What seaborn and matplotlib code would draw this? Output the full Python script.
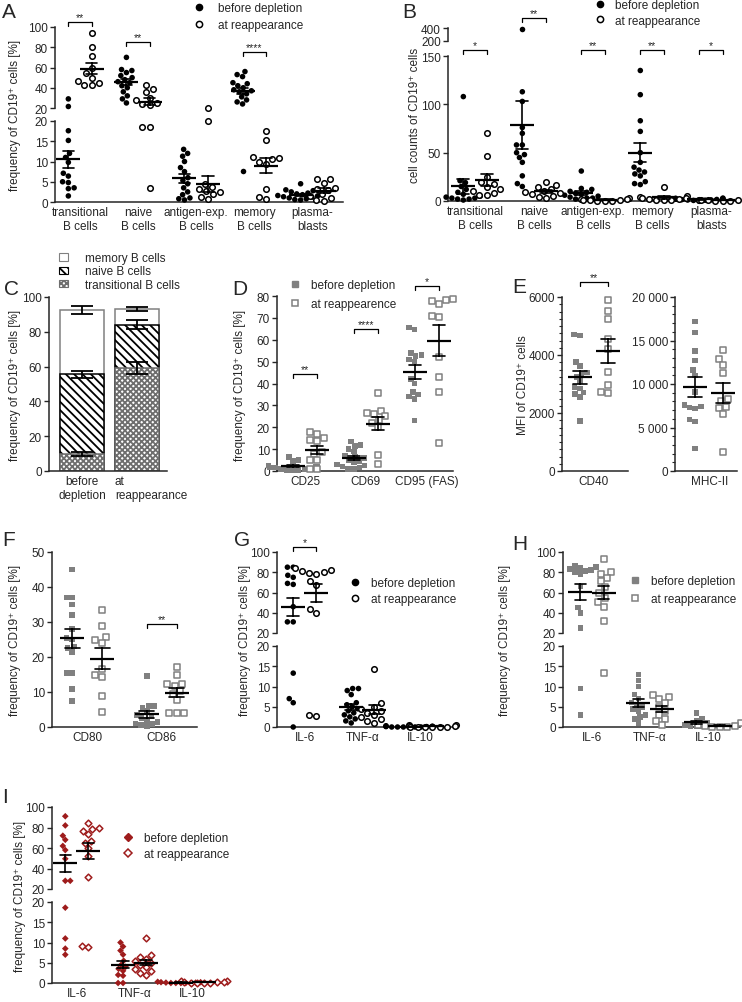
import warnings
import pandas as pd
import matplotlib
matplotlib.use('Agg')
import matplotlib.pyplot as plt
from matplotlib.lines import Line2D
from matplotlib.patches import Patch
from matplotlib.ticker import AutoMinorLocator, FuncFormatter
import seaborn as sns

warnings.filterwarnings('ignore')

sns.set_style('ticks')
plt.rcParams['font.family'] = ['Liberation Sans', 'DejaVu Sans']
plt.rcParams['hatch.linewidth'] = 1.3
plt.rcParams['axes.linewidth'] = 1.1

FS = 8.5
GROUPS = ['before', 'after']
YLAB = 'frequency of CD19⁺ cells [%]'
GRAY = '#808080'
RED = '#9e1c1c'

# ---------------- data ----------------
BCELL_CATS = ['transitional\nB cells', 'naive\nB cells', 'antigen-exp.\nB cells',
              'memory\nB cells', 'plasma-\nblasts']
A_BEFORE = [[29, 21.5, 17.6, 15.2, 12, 11, 9.8, 7.1, 6.4, 5, 4.8, 3.5, 3.3, 1.5],
            [70, 58, 57, 55, 52, 50, 48, 46, 45, 42, 40, 36, 32, 29, 25],
            [13, 12, 11.3, 10, 8.5, 7.5, 6, 5.3, 4.5, 3.5, 2.5, 1.8, 1, 0.8, 0.5],
            [56, 53, 51, 45, 44, 42, 40, 38, 37, 36, 34, 31, 28, 26, 24, 7.7],
            [4.5, 3, 2.8, 2.5, 2.2, 2, 1.8, 1.6, 1.5, 1.3, 1.2, 1, 0.8, 0.6, 0.5]]
A_AFTER = [[94, 80, 71, 60, 55, 50, 47, 45, 43, 43],
           [43, 39, 36, 30, 28, 25, 24, 23, 18.4, 18.4, 3.5],
           [20, 4.5, 3.8, 3.2, 2.7, 2.4, 2, 1.3, 0.7],
           [17.5, 15.3, 11, 10.8, 10.5, 10, 9.5, 3.3, 1.2, 0.8],
           [5.8, 5.6, 4.8, 3.5, 3.2, 3, 2, 1.5, 1, 0.5, 0.3]]

B_BEFORE = [[108, 21, 19, 15, 12, 9, 7, 5, 4, 3, 3, 2, 2, 1],
            [380, 113, 103, 70, 76, 58, 58, 50, 48, 45, 40, 26, 18, 15],
            [31, 13, 12, 10, 9, 8, 7, 6, 5, 4, 3, 3, 2, 1],
            [135, 110, 83, 72, 50, 40, 35, 32, 30, 28, 26, 20, 18, 17],
            [3, 2.8, 2.5, 2.2, 2, 1.8, 1.6, 1.4, 1.2, 1, 0.8, 0.6, 0.5]]
B_AFTER = [[70, 47, 25, 20, 18, 15, 12, 10, 8, 6, 6],
           [20, 17, 15, 12, 10, 9, 8, 7, 5, 4, 3],
           [3, 2.5, 2, 1.5, 1, 1, 0.5, 0.5, 0.3],
           [15, 5, 4, 3, 3, 2, 2, 1.5, 1, 1],
           [1.5, 1.3, 1.1, 1, 0.9, 0.8, 0.6, 0.5, 0.4, 0.3]]

C_GROUPS = ['before\ndepletion', 'at\nreappearance']
C_TRANS = [10, 59]
C_TRANS_SEM = [1.2, 3.5]
C_NAIVE = [45.5, 25]
C_NAIVE_SEM = [2.0, 2.5]
C_MEMORY = [37, 9]
C_MEMORY_SEM = [2.2, 1.2]

D_CATS = ['CD25', 'CD69', 'CD95 (FAS)']
D_BEFORE = [[6.5, 5, 4.5, 2.5, 2, 2, 1.5, 1.5, 1, 1, 0.8, 0.5, 0.5, 0.3],
            [13.5, 12, 11.5, 10, 9, 7, 6.5, 6, 5, 4.5, 4, 3, 2.5, 2, 1.5, 1, 0.8],
            [65.5, 64.6, 54, 53, 52.5, 51, 50, 42, 40, 36, 35, 34, 33, 23]]
D_AFTER = [[18, 16.8, 15.2, 14, 13.5, 8.5, 8, 5, 5, 1, 0.8],
           [35.5, 27.5, 26.5, 26, 25, 23.5, 22, 20, 7.3, 3.3],
           [78.5, 78, 77.5, 76.5, 71, 70.5, 52, 43, 36, 13]]

E_CD40_BEFORE = [4700, 4680, 3750, 3620, 3400, 3350, 3250, 3100, 2900, 2850, 2700, 2650, 2550, 1730]
E_CD40_AFTER = [5880, 5520, 5230, 4550, 4200, 3420, 2950, 2720, 2680]
E_MHC_BEFORE = [17200, 15900, 13800, 12700, 11600, 11000, 9100, 7600, 7400, 7300, 7200, 5900, 5700, 2600]
E_MHC_AFTER = [13900, 12900, 12200, 11300, 8300, 8000, 7400, 7200, 6500, 2200]

F_CATS = ['CD80', 'CD86']
F_BEFORE = [[45, 37, 37, 35, 32, 28, 25.5, 25, 23, 22.5, 21.5, 15.5, 15.5, 10.8, 7.5],
            [14.5, 6, 6, 5.5, 4.5, 3.5, 3, 2.5, 2, 1.5, 1, 0.8, 0.5, 0.3]]
F_AFTER = [[33.5, 28.8, 25.7, 24.8, 24, 16.5, 14.8, 14.2, 8.9, 4.3],
           [17.2, 14.8, 12.3, 12.2, 11.8, 10.3, 9.5, 7.8, 4, 4, 4]]

CYTO_CATS = ['IL-6', 'TNF-α', 'IL-10']
G_BEFORE = [[85, 85, 77, 75, 69, 68, 46, 31, 31, 13.3, 7, 6, 0],
            [9.5, 9.5, 9, 8, 6, 5.5, 5, 4.5, 4, 3.5, 3, 2.5, 2, 1.5, 1],
            [0.3, 0.2, 0.2, 0.1, 0.1, 0.1, 0, 0, 0, 0, 0, 0]]
G_AFTER = [[84, 82, 81, 80, 79, 78, 71, 67, 44, 40, 3, 2.8],
           [14.3, 6, 5, 4.5, 4, 3.5, 3, 2.5, 2, 1.5, 1],
           [0.5, 0.4, 0.3, 0.2, 0.1, 0.1, 0, 0, 0, 0]]

H_BEFORE = [[86, 85, 84, 83, 82, 81, 80, 78, 66, 45, 40, 25, 9.5, 3],
            [13, 11.5, 10, 8, 7, 6, 5.5, 5, 4.5, 4, 3, 2.5, 2, 1],
            [3.5, 2, 1.5, 1, 0.5, 0.3, 0.2, 0.1]]
H_AFTER = [[93, 80, 78, 74, 71, 65, 60, 55, 51, 46, 32, 13.3],
           [8, 7.5, 7, 6, 5, 4, 3, 2, 1.5, 0.5],
           [1, 0.5, 0.3, 0.2, 0.1, 0, 0]]

I_BEFORE = [[91, 82, 72, 68, 62, 58, 49.5, 28, 28, 18.6, 11, 8.5, 7],
            [10, 9, 8, 7, 5.5, 4.5, 4, 3.5, 3, 2, 1.8, 0, 0],
            [0.3, 0.2, 0.2, 0.1, 0.1, 0, 0, 0, 0, 0]]
I_AFTER = [[84, 80, 79, 77, 74, 67, 65, 60, 52, 32, 9.1, 8.8],
           [11, 7, 6.5, 6, 5.5, 5, 4.5, 4, 3.5, 3, 2.5, 2],
           [0.5, 0.4, 0.3, 0.3, 0.2, 0.1, 0.1, 0, 0]]

# ---------------- helpers ----------------
W, H = 742, 1003
fig = plt.figure(figsize=(W / 100, H / 100), dpi=100)


def px_axes(x0, y0, x1, y1):
    return fig.add_axes([x0 / W, 1 - y1 / H, (x1 - x0) / W, (y1 - y0) / H])


def long_df(cats, before, after):
    rows = []
    for cat, b, a in zip(cats, before, after):
        rows += [(cat, 'before', v) for v in b]
        rows += [(cat, 'after', v) for v in a]
    return pd.DataFrame(rows, columns=['cat', 'grp', 'val'])


def style(ax, show_x=True):
    sns.despine(ax=ax)
    if show_x:
        ax.tick_params(axis='x', length=0, pad=3, labelsize=FS)
    else:
        ax.spines['bottom'].set_visible(False)
        ax.tick_params(axis='x', bottom=False, labelbottom=False)
    ax.tick_params(axis='y', length=3.5, width=1, pad=1.5, labelsize=FS)
    ax.set_xlabel('')
    ax.set_ylabel('')


def dots(ax, df, cats, lo, hi, ticks, xlim, marker, color, size=4.0, show_x=True):
    sns.pointplot(data=df, x='cat', y='val', hue='grp', order=cats, hue_order=GROUPS,
                  dodge=0.4, errorbar='se', markers='_', linestyles='none',
                  palette={'before': 'black', 'after': 'black'}, capsize=0.2,
                  err_kws={'linewidth': 1.2, 'zorder': 6}, markersize=17,
                  markeredgewidth=1.6, zorder=7, legend=False, ax=ax)
    part = df[(df.val >= lo) & (df.val <= hi)]
    for grp in GROUPS:
        sub = part[part.grp == grp]
        if sub.empty:
            continue
        n0 = len(ax.collections)
        sns.swarmplot(data=sub, x='cat', y='val', hue='grp', order=cats, hue_order=GROUPS,
                      dodge=True, palette={'before': color, 'after': color}, marker=marker,
                      size=size, legend=False, warn_thresh=1, ax=ax)
        for coll in ax.collections[n0:]:
            coll.set_clip_on(False)
            coll.set_zorder(3)
            if grp == 'after':
                coll.set_facecolor('white')
                coll.set_edgecolor(color)
                coll.set_linewidth(1.1)
    ax.set_ylim(lo, hi)
    ax.set_yticks(ticks)
    ax.set_xlim(*xlim)
    style(ax, show_x)


def bracket(ax, i, y, drop, stars):
    ax.plot([i - 0.2, i - 0.2, i + 0.2, i + 0.2], [y - drop, y, y, y - drop],
            color='black', lw=0.9, clip_on=False)
    ax.text(i, y, stars, ha='center', va='bottom', fontsize=7.5, clip_on=False)


def marker_handles(marker, color, ms=4.5):
    return [Line2D([], [], ls='none', marker=marker, ms=ms, mfc=color, mec=color),
            Line2D([], [], ls='none', marker=marker, ms=ms, mfc='white', mec=color, mew=1.1)]


def legend(ax, handles, labels, x, y, spacing, pad=1.1):
    ax.legend(handles, labels, loc='upper left', bbox_to_anchor=(x / W, 1 - y / H),
              bbox_transform=fig.transFigure, frameon=False, borderpad=0,
              borderaxespad=0, handlelength=1.0, handletextpad=pad,
              labelspacing=spacing, fontsize=FS)


def ylabel(x, y, text):
    fig.text(x / W, 1 - y / H, text, rotation=90, ha='center', va='center', fontsize=FS)


def letter(x, y, s):
    fig.text(x / W, 1 - y / H, s, fontsize=15, va='top', ha='left')


PAIR = ['before depletion', 'at reappearance']

# ---------------- A ----------------
a_df = long_df(BCELL_CATS, A_BEFORE, A_AFTER)
ax_a1 = px_axes(55, 28, 343, 109)
ax_a2 = px_axes(55, 122, 343, 203)
dots(ax_a1, a_df, BCELL_CATS, 20, 100, [20, 40, 60, 80, 100], (-0.43, 4.53), 'o', 'black', show_x=False)
dots(ax_a2, a_df, BCELL_CATS, 0, 20, [0, 5, 10, 15, 20], (-0.43, 4.53), 'o', 'black')
bracket(ax_a1, 0, 105, 4, '**')
bracket(ax_a1, 1, 85, 4, '**')
bracket(ax_a1, 3, 75.5, 4, '****')
legend(ax_a1, marker_handles('o', 'black'), PAIR, 193, 3, 0.45)
ylabel(15, 115, YLAB)
letter(2, 3, 'A')

# ---------------- B ----------------
b_df = long_df(BCELL_CATS, B_BEFORE, B_AFTER)
ax_b1 = px_axes(448, 29, 740, 42)
ax_b2 = px_axes(448, 57, 740, 202)
dots(ax_b1, b_df, BCELL_CATS, 200, 400, [200, 400], (-0.46, 4.49), 'o', 'black', show_x=False)
dots(ax_b2, b_df, BCELL_CATS, 0, 150, [0, 50, 100, 150], (-0.46, 4.49), 'o', 'black')
bracket(ax_b1, 1, 555, 60, '**')
for i, s in [(0, '*'), (2, '**'), (3, '**'), (4, '*')]:
    bracket(ax_b2, i, 156, 4, s)
legend(ax_b1, marker_handles('o', 'black'), PAIR, 594, 0, 0.3, pad=0.8)
ylabel(415, 115, 'cell counts of CD19⁺ cells')
letter(402, 3, 'B')

# ---------------- C ----------------
ax_c = px_axes(49, 298, 167, 472)
cum_naive = [t + n for t, n in zip(C_TRANS, C_NAIVE)]
cum_mem = [c + m for c, m in zip(cum_naive, C_MEMORY)]
layers = [(cum_mem, C_MEMORY_SEM, '', GRAY),
          (cum_naive, C_NAIVE_SEM, '\\\\\\\\', 'black'),
          (C_TRANS, C_TRANS_SEM, 'xxxxxx', '#6e6e6e')]
for tops, sems, hatch, ec in layers:
    n0 = len(ax_c.patches)
    sns.barplot(x=C_GROUPS, y=tops, color='white', saturation=1, edgecolor=ec,
                linewidth=1.1, width=0.8, ax=ax_c)
    for p in ax_c.patches[n0:]:
        p.set_hatch(hatch)
    ax_c.errorbar(range(len(C_GROUPS)), tops, yerr=sems, fmt='none', ecolor='black',
                  elinewidth=1.3, capsize=8, capthick=1.3, zorder=5)
ax_c.set_ylim(0, 100)
ax_c.set_yticks(range(0, 101, 20))
ax_c.set_xlim(-0.6, 1.55)
style(ax_c)
ax_c.set_xticks([0, 1], [C_GROUPS[0], ''])
ax_c.text(0.6, -0.022, C_GROUPS[1], transform=ax_c.get_xaxis_transform(),
          ha='left', va='top', fontsize=FS)
c_handles = [Patch(facecolor='white', edgecolor=GRAY, lw=0.8),
             Patch(facecolor='white', edgecolor='black', hatch='\\\\\\\\', lw=0.8),
             Patch(facecolor='white', edgecolor='#6e6e6e', hatch='xxxxxx', lw=0.8)]
ax_c.legend(c_handles, ['memory B cells', 'naive B cells', 'transitional B cells'],
            loc='upper left', bbox_to_anchor=(59 / W, 1 - 253 / H),
            bbox_transform=fig.transFigure, frameon=False, borderpad=0, borderaxespad=0,
            handlelength=0.8, handleheight=0.6, handletextpad=1.4, labelspacing=0.12,
            fontsize=FS)
ylabel(15, 385, YLAB)
letter(4, 280, 'C')

# ---------------- D ----------------
d_df = long_df(D_CATS, D_BEFORE, D_AFTER)
ax_d = px_axes(277, 297, 453, 472)
dots(ax_d, d_df, D_CATS, 0, 80, range(0, 81, 10), (-0.46, 2.43), 's', GRAY)
bracket(ax_d, 0, 44.5, 1.8, '**')
bracket(ax_d, 1, 64.8, 1.8, '****')
bracket(ax_d, 2, 84.7, 1.8, '*')
legend(ax_d, marker_handles('s', GRAY), ['before depletion', 'at reappearence'], 289, 280, 0.6, pad=0.9)
ylabel(240, 385, YLAB)
letter(232, 280, 'D')

# ---------------- E ----------------
e1_df = long_df(['CD40'], [E_CD40_BEFORE], [E_CD40_AFTER])
ax_e1 = px_axes(562, 298, 628, 472)
dots(ax_e1, e1_df, ['CD40'], 0, 6000, [0, 2000, 4000, 6000], (-0.46, 0.49), 's', GRAY)
ax_e1.yaxis.set_minor_locator(AutoMinorLocator(8))
ax_e1.tick_params(axis='y', which='minor', length=2, width=0.8)
bracket(ax_e1, 0, 6517, 140, '**')
e2_df = long_df(['MHC-II'], [E_MHC_BEFORE], [E_MHC_AFTER])
ax_e2 = px_axes(675, 298, 737, 472)
dots(ax_e2, e2_df, ['MHC-II'], 0, 20000, [0, 5000, 10000, 15000, 20000], (-0.49, 0.4), 's', GRAY)
ax_e2.yaxis.set_major_formatter(FuncFormatter(lambda v, p: f'{int(v):,}'.replace(',', ' ')))
ax_e2.yaxis.set_minor_locator(AutoMinorLocator(5))
ax_e2.tick_params(axis='y', which='minor', length=2, width=0.8)
ylabel(523, 385, 'MFI of CD19⁺ cells')
letter(512, 278, 'E')

# ---------------- F ----------------
f_df = long_df(F_CATS, F_BEFORE, F_AFTER)
ax_f = px_axes(52, 553, 197, 728)
dots(ax_f, f_df, F_CATS, 0, 50, range(0, 51, 10), (-0.47, 1.47), 's', GRAY)
bracket(ax_f, 1, 29.4, 1.1, '**')
ylabel(15, 640, YLAB)
letter(2, 531, 'F')

# ---------------- G ----------------
g_df = long_df(CYTO_CATS, G_BEFORE, G_AFTER)
ax_g1 = px_axes(277, 553, 455, 634)
ax_g2 = px_axes(277, 647, 455, 728)
dots(ax_g1, g_df, CYTO_CATS, 20, 100, [20, 40, 60, 80, 100], (-0.48, 2.59), 'o', 'black', show_x=False)
dots(ax_g2, g_df, CYTO_CATS, 0, 20, [0, 5, 10, 15, 20], (-0.48, 2.59), 'o', 'black')
bracket(ax_g1, 0, 105, 4, '*')
legend(ax_g1, marker_handles('o', 'black'), PAIR, 349, 578, 0.35, pad=0.9)
ylabel(245, 640, YLAB)
letter(234, 531, 'G')

# ---------------- H ----------------
h_df = long_df(CYTO_CATS, H_BEFORE, H_AFTER)
ax_h1 = px_axes(563, 553, 740, 634)
ax_h2 = px_axes(563, 647, 740, 728)
dots(ax_h1, h_df, CYTO_CATS, 20, 100, [20, 40, 60, 80, 100], (-0.5, 2.55), 's', GRAY, show_x=False)
dots(ax_h2, h_df, CYTO_CATS, 0, 20, [0, 5, 10, 15, 20], (-0.5, 2.55), 's', GRAY)
legend(ax_h1, marker_handles('s', GRAY), PAIR, 629, 576, 0.5, pad=0.9)
ylabel(505, 640, YLAB)
letter(512, 535, 'H')

# ---------------- I ----------------
i_df = long_df(CYTO_CATS, I_BEFORE, I_AFTER)
ax_i1 = px_axes(52, 808, 227, 890)
ax_i2 = px_axes(52, 903, 227, 984)
dots(ax_i1, i_df, CYTO_CATS, 20, 100, [20, 40, 60, 80, 100], (-0.43, 2.6), 'D', RED, size=3.4, show_x=False)
dots(ax_i2, i_df, CYTO_CATS, 0, 20, [0, 5, 10, 15, 20], (-0.43, 2.6), 'D', RED, size=3.4)
legend(ax_i1, marker_handles('D', RED, ms=4), PAIR, 122, 833, 0.35, pad=0.9)
ylabel(20, 896, YLAB)
letter(2, 788, 'I')

fig.savefig('out.png', dpi=100)
